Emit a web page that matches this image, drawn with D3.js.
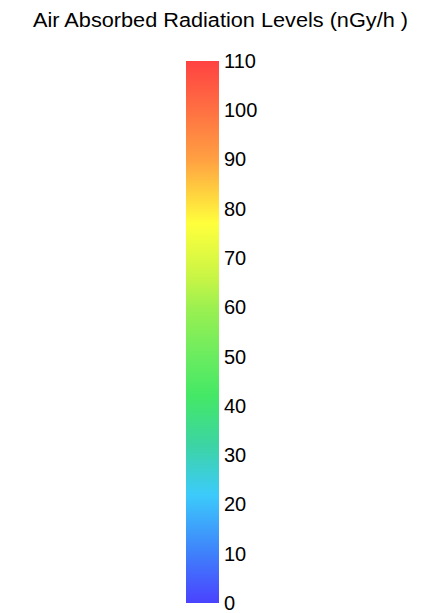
<!DOCTYPE html>
<html>
<head>
<meta charset="utf-8">
<script src="https://cdn.jsdelivr.net/npm/d3@7"></script>
<style>
  body { margin: 0; background: #fff; }
  text { font-family: "Liberation Sans", Arial, sans-serif; fill: #000; }
</style>
</head>
<body>
<div id="chart"></div>
<script>
// Legend data
var title = "Air Absorbed Radiation Levels (nGy/h )";
var tickValues = [0, 10, 20, 30, 40, 50, 60, 70, 80, 90, 100, 110];
var stopValues = [0, 10, 22, 32, 42, 50, 60, 66, 77, 90, 100, 110];
var stopColors = ["#4a42ff", "#3f80fb", "#3ccbfb", "#3cd4a4", "#44e866", "#6aec60", "#9cf050", "#c8f545", "#ffff3c", "#ffa042", "#ff7042", "#ff4242"];

// Layout
var width = 425;
var height = 613;
var barX = 186;
var barWidth = 33;
var barTop = 61;
var barBottom = 603;

var svg = d3.select("#chart").append("svg")
  .attr("width", width)
  .attr("height", height);

var yScale = d3.scaleLinear()
  .domain([0, 110])
  .range([barBottom, barTop]);

/* Gradient */
var grad = svg.append("defs").append("linearGradient")
  .attr("id", "legend-grad")
  .attr("x1", 0).attr("y1", 1)
  .attr("x2", 0).attr("y2", 0);

grad.selectAll("stop")
  .data(stopValues)
  .enter().append("stop")
  .attr("offset", d => (d / 110 * 100) + "%")
  .attr("stop-color", (d, i) => stopColors[i]);

svg.append("rect")
  .attr("x", barX)
  .attr("y", yScale(110))
  .attr("width", barWidth)
  .attr("height", yScale(0) - yScale(110))
  .style("fill", "url(#legend-grad)");

/* Labels */
var yAxis = d3.axisRight(yScale)
  .tickValues(tickValues)
  .tickSize(0)
  .tickPadding(5);

var axisGroup = svg.append("g")
  .attr("transform", `translate(${barX + barWidth}, 0)`)
  .call(yAxis);

axisGroup.select(".domain").remove();
axisGroup.selectAll("text")
  .attr("font-size", "20px")
  .style("font-family", "'Liberation Sans', Arial, sans-serif")
  .attr("fill", "#000");

/* Title */
svg.append("text")
  .attr("x", 220.5)
  .attr("y", 27)
  .attr("text-anchor", "middle")
  .attr("font-size", "19.5px")
  .attr("textLength", 375)
  .attr("lengthAdjust", "spacingAndGlyphs")
  .text(title);
</script>
</body>
</html>
